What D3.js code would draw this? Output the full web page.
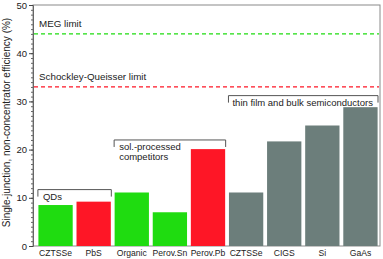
<!DOCTYPE html>
<html>
<head>
<meta charset="utf-8">
<script src="https://cdn.jsdelivr.net/npm/d3@7"></script>
<style>
  body { margin: 0; background: #fff; }
  text { font-family: "Liberation Sans", Arial, sans-serif; }
</style>
</head>
<body>
<div id="chart"></div>
<script>
// data
var categories = ["CZTSSe", "PbS", "Organic", "Perov.Sn", "Perov.Pb", "CZTSSe ", "CIGS", "Si", "GaAs"];
var efficiencies = [8.5, 9.2, 11.1, 7.0, 20.1, 11.1, 21.7, 25.0, 28.8];
var groups = ["green", "red", "green", "green", "red", "gray", "gray", "gray", "gray"];
var yTicks = [0, 10, 20, 30, 40, 50];
var limitNames = ["MEG limit", "Schockley-Queisser limit"];
var limitValues = [44, 33];
var limitGroups = ["green", "red"];
// brackets: first bar, last bar, label lines, bracket height (value)
var bracketLabels = [["QDs"], ["sol.-processed", "competitors"], ["thin film and bulk semiconductors"]];
var bracketFrom = [0, 2, 5];
var bracketTo = [1, 4, 8];
var bracketValues = [11.7, 22, 31.2];

var W = 383, H = 259;
var margin = {top: 5, right: 3, bottom: 13, left: 33};
var width = W - margin.left - margin.right,
    height = H - margin.top - margin.bottom;

var color = d3.scaleOrdinal()
  .domain(["green", "red", "gray"])
  .range(["#1fdc10", "#fe1626", "#6c7e7b"]);

var svg = d3.select("#chart")
  .append("svg")
    .attr("width", W)
    .attr("height", H)
  .append("g")
    .attr("transform", "translate(" + margin.left + "," + margin.top + ")");

var x = d3.scaleBand()
  .domain(categories)
  .range([3.5, width - 0.5])
  .paddingInner(0.1)
  .paddingOuter(0.05);

var y = d3.scaleLinear()
  .domain([0, 50])
  .range([height, 0]);

// frame
svg.append("rect")
  .attr("x", 0).attr("y", 0)
  .attr("width", width).attr("height", height)
  .attr("fill", "none")
  .attr("stroke", "#8a8a8a")
  .attr("stroke-width", 1);

// bars
svg.selectAll(".bar")
  .data(categories)
  .enter()
  .append("rect")
    .attr("class", "bar")
    .attr("x", function(d) { return x(d); })
    .attr("y", function(d, i) { return y(efficiencies[i]); })
    .attr("width", x.bandwidth())
    .attr("height", function(d, i) { return height - y(efficiencies[i]); })
    .attr("fill", function(d, i) { return color(groups[i]); });

// minor ticks
var yAxisMinor = d3.axisLeft(y).ticks(50).tickSize(2).tickFormat("");
svg.append("g").call(yAxisMinor)
  .call(function(g) { g.select(".domain").remove(); })
  .selectAll("line").attr("stroke", "#666");

// major ticks
var yAxis = svg.append("g")
  .call(d3.axisLeft(y).tickValues(yTicks).tickSize(4).tickPadding(2));
yAxis.select(".domain").attr("stroke", "#666");
yAxis.selectAll("line").attr("stroke", "#444");
yAxis.selectAll("text").attr("font-size", "9.5px").attr("fill", "#222");

// x axis labels
var xAxis = svg.append("g")
  .attr("transform", "translate(0," + height + ")")
  .call(d3.axisBottom(x).tickSize(0).tickPadding(3.5).tickFormat(function(d) { return d.trim(); }));
xAxis.select(".domain").remove();
xAxis.selectAll("text").attr("font-size", "8.6px").attr("fill", "#222");

// limit lines
limitValues.forEach(function(v, i) {
  svg.append("line")
    .attr("x1", 1).attr("x2", width - 1)
    .attr("y1", y(v)).attr("y2", y(v))
    .attr("stroke", color(limitGroups[i]))
    .attr("stroke-width", 1.2)
    .attr("stroke-dasharray", "4,3");
  svg.append("text")
    .attr("x", 6)
    .attr("y", y(v) - 7)
    .attr("font-size", "9.8px")
    .attr("fill", "#222")
    .text(limitNames[i]);
});

// brackets
bracketLabels.forEach(function(lines, i) {
  var x1 = x(categories[bracketFrom[i]]) - 0.5;
  var x2 = x(categories[bracketTo[i]]) + x.bandwidth() + 0.5;
  if (i == 2) x2 = width - 2;
  var yy = y(bracketValues[i]);
  svg.append("path")
    .attr("d", "M" + x1 + "," + (yy + 7) + "V" + yy + "H" + x2 + "V" + (yy + 7))
    .attr("fill", "none")
    .attr("stroke", "#555")
    .attr("stroke-width", 1);
  lines.forEach(function(t, j) {
    svg.append("text")
      .attr("x", x1 + (i == 2 ? 4 : 5))
      .attr("y", yy + 10 + j * 10.5)
      .attr("font-size", "9.5px")
      .attr("fill", "#222")
      .text(t);
  });
});

// y label
svg.append("text")
  .attr("transform", "rotate(-90)")
  .attr("x", -height / 2 + 3)
  .attr("y", -23)
  .attr("text-anchor", "middle")
  .attr("font-size", "10px")
  .attr("fill", "#222")
  .text("Single-junction, non-concentrator efficiency (%)");
</script>
</body>
</html>
